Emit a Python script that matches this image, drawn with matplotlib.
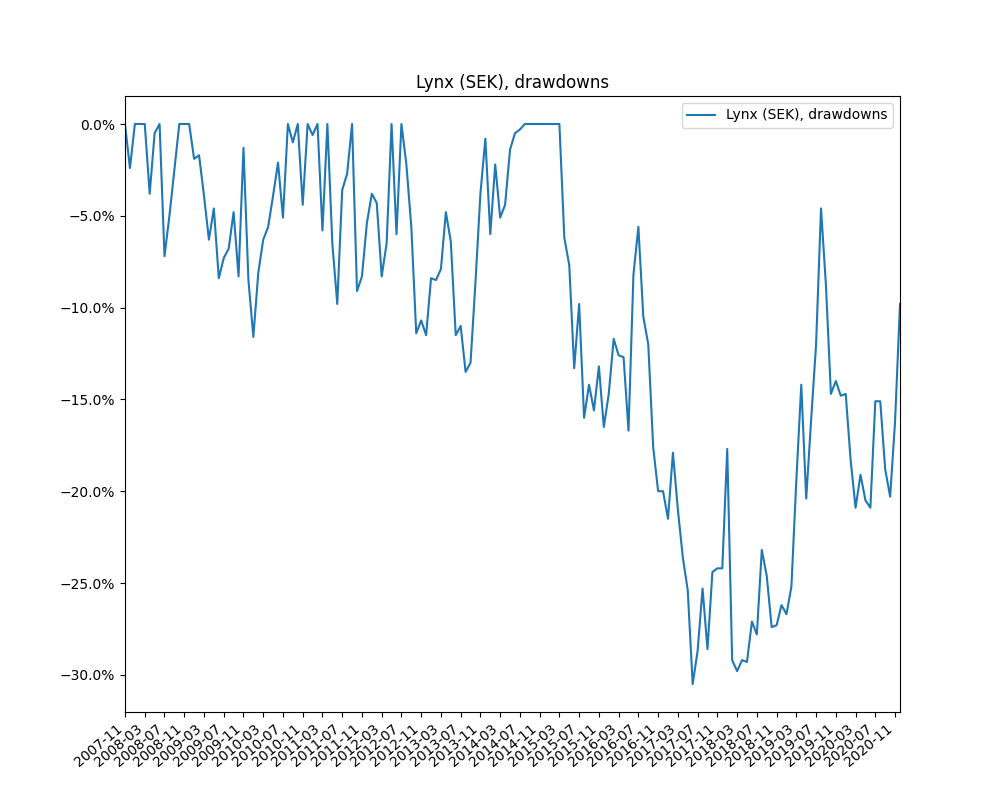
import pandas as pd
import matplotlib
matplotlib.use('Agg')
import matplotlib.pyplot as plt
from matplotlib.ticker import FuncFormatter

# drawdown values in percent, monthly from 2007-11
drawdowns = [
    0, -2.4, 0, 0, 0, -3.8, -0.5, 0, -7.2, -5, -2.5, 0, 0, 0, -1.9, -1.7,
    -3.9, -6.3, -4.6, -8.4, -7.3, -6.8, -4.8, -8.3, -1.3, -8.5, -11.6, -8.1,
    -6.3, -5.6, -3.9, -2.1, -5.1, 0, -1, 0, -4.4, 0, -0.6, 0, -5.8, 0,
    -6.5, -9.8, -3.6, -2.7, 0, -9.1, -8.3, -5.4, -3.8, -4.3, -8.3, -6.5, 0,
    -6, 0, -2.2, -5.6, -11.4, -10.7, -11.5, -8.4, -8.5, -7.9, -4.8, -6.4,
    -11.5, -11, -13.5, -13, -8.6, -3.8, -0.8, -6, -2.2, -5.1, -4.4, -1.4,
    -0.5, -0.3, 0, 0, 0, 0, 0, 0, 0, 0, -6.2, -7.7, -13.3, -9.8, -16,
    -14.2, -15.6, -13.2, -16.5, -14.7, -11.7, -12.6, -12.7, -16.7, -8.2,
    -5.6, -10.5, -12, -17.6, -20, -20, -21.5, -17.9, -21, -23.6, -25.4,
    -30.5, -28.7, -25.3, -28.6, -24.4, -24.2, -24.2, -17.7, -29.2, -29.8,
    -29.2, -29.3, -27.1, -27.8, -23.2, -24.6, -27.4, -27.3, -26.2, -26.7,
    -25.2, -19.4, -14.2, -20.4, -16.1, -12, -4.6, -8.8, -14.7, -14, -14.8,
    -14.7, -18.3, -20.9, -19.1, -20.5, -20.9, -15.1, -15.1, -18.8, -20.3,
    -16.2, -9.8,
]
dates = pd.date_range('2007-11-01', periods=len(drawdowns), freq='MS').strftime('%Y-%m').tolist()
label = 'Lynx (SEK), drawdowns'


def main():
    fig, ax = plt.subplots(figsize=(10, 8))
    x = range(len(drawdowns))
    ax.plot(x, [v / 100 for v in drawdowns], label=label)
    ax.set_xlim(0, len(drawdowns) - 1)
    ticks = list(range(0, len(drawdowns), 4))
    ax.set_xticks(ticks)
    ax.set_xticklabels([dates[i] for i in ticks], rotation=40, ha='right')
    ax.yaxis.set_major_formatter(FuncFormatter(lambda v, p: f'{v * 100:.1f}%'.replace('-', '\u2212')))
    ax.set_title(label)
    ax.legend(loc='upper right')
    plt.savefig('out.png', dpi=100)


if __name__ == '__main__':
    main()
